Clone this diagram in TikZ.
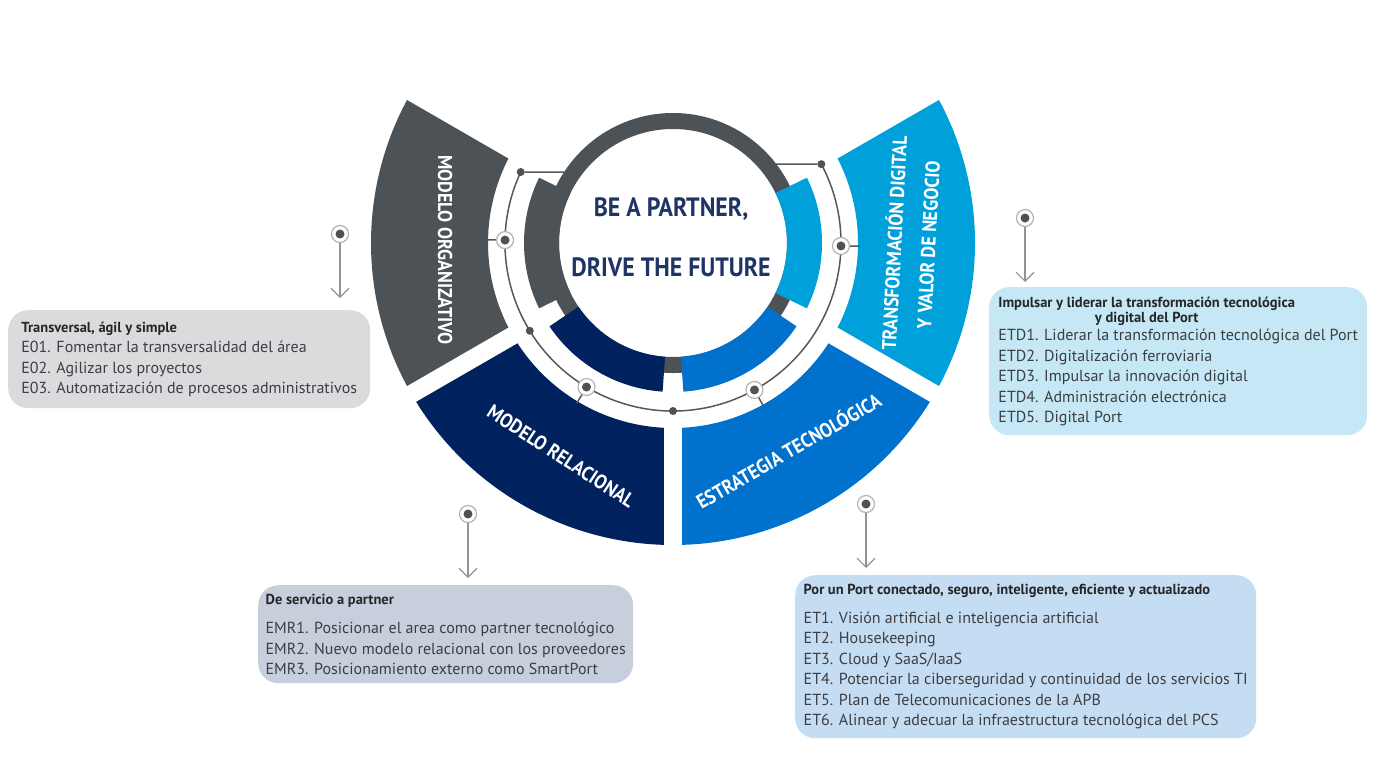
\documentclass[tikz,border=0pt]{standalone}
\usepackage{fontspec}
\setmainfont{PT Sans}
\newfontfamily\narrowfont{PT Sans}[FakeStretch=0.9]
\usetikzlibrary{arrows,arrows.meta,calc}
\definecolor{segGray}{RGB}{77,82,86}
\definecolor{segNavy}{RGB}{0,35,95}
\definecolor{segBlue}{RGB}{0,113,205}
\definecolor{segCyan}{RGB}{0,160,218}
\definecolor{mottoNavy}{RGB}{30,52,100}
\definecolor{boxGray}{RGB}{218,219,221}
\definecolor{boxCyan}{RGB}{197,231,246}
\definecolor{boxSlate}{RGB}{200,207,220}
\definecolor{boxBlue}{RGB}{197,221,242}
\definecolor{lineGray}{RGB}{85,88,92}
\definecolor{itemGray}{RGB}{60,62,66}
\newcommand{\headfont}{\bfseries\color{black!85}\fontsize{14.5}{15.5}\selectfont}
\newcommand{\ringpart}[5]{%
  \fill[#1] ($(C)+(#2:#4)$) arc[start angle=#2,end angle=#3,radius=#4]
    -- ($(C)+(#3:#5)$) arc[start angle=#3,end angle=#2,radius=#5] -- cycle;}
\tikzstyle{every node}=[font=\fontsize{16}{20.5}\selectfont]
\tikzstyle{infobox}=[rounded corners=20pt,
                     anchor=north west,
                     align=left,
                     inner sep=0pt,
                     text=itemGray]
\tikzstyle{seglabel}=[text=white,
                      align=center,
                      font=\narrowfont\bfseries\fontsize{20}{24}\selectfont]
\tikzstyle{motto}=[text=mottoNavy,
                   font=\narrowfont\bfseries\fontsize{26.5}{30}\selectfont]
\tikzstyle{ringline}=[draw=lineGray, line width=1.5pt]
\tikzstyle{pinline}=[draw=gray!85, line width=1.2pt]
\tikzstyle{dot}=[circle, fill=segGray, inner sep=0pt, minimum size=8pt]
\tikzstyle{pin}=[circle,
                 draw=gray!60,
                 line width=1.2pt,
                 fill=white,
                 inner sep=0pt,
                 minimum size=17pt,
                 path picture={\fill[segGray] (path picture bounding box.center) circle (4.5pt);}]

\begin{document}
\begin{tikzpicture}[x=1pt,y=1pt,>={Straight Barb[length=9pt,width=18pt]}]
\useasboundingbox (0,0) rectangle (1375,-756);
\coordinate (C) at (673,-243);
\ringpart{segGray}{150}{210}{185pt}{302pt}
\ringpart{segNavy}{210}{270}{185pt}{302pt}
\ringpart{segBlue}{270}{330}{185pt}{302pt}
\ringpart{segCyan}{330}{390}{185pt}{302pt}
\foreach \a in {30,150,210,270,330}
  \draw[white, line width=18pt] ($(C)+(\a:176pt)$) -- ($(C)+(\a:312pt)$);
\draw[segGray, line width=16pt] (C) circle (122pt);
\ringpart{segGray}{154}{206}{114pt}{149pt}
\ringpart{segNavy}{214}{266}{114pt}{149pt}
\ringpart{segBlue}{274}{326}{114pt}{149pt}
\ringpart{segCyan}{334}{386}{114pt}{149pt}

\draw[ringline] ($(C)+(155:168pt)$) arc[start angle=155, end angle=388, radius=168pt];
\node[dot] (dotTL) at ($(C)+(155:168pt)$) {};
\node[dot] (dotTR) at ($(C)+(28:168pt)$) {};
\node[dot] (dotBL) at ($(C)+(211.5:168pt)$) {};
\node[dot] (dotB) at ($(C)+(270:168pt)$) {};
\coordinate (ringTL) at (564,-172);
\coordinate (ringTR) at (776,-164);
\draw[ringline] (dotTL) -- (ringTL);
\draw[ringline] (dotTR) -- (ringTR);

\foreach \a/\n in {179/L, 359/R, 239/BL, 299/BR}{
  \coordinate (stub\n) at ($(C)+(\a:187pt)$);
  \draw[ringline] ($(C)+(\a:168pt)$) -- (stub\n);
  \node[pin] (pinRing\n) at ($(C)+(\a:168pt)$) {};
}

\node[seglabel, rotate=-90] (orgLabel) at (445,-250) {MODELO ORGANIZATIVO};
\node[seglabel, rotate=87] (digLabel) at (910,-244) {TRANSFORMACIÓN DIGITAL\\[10pt]Y VALOR DE NEGOCIO};
\node[seglabel, rotate=-33] (relLabel) at (561,-456) {MODELO RELACIONAL};
\node[seglabel, rotate=30] (tecLabel) at (788,-450) {ESTRATEGIA TECNOLÓGICA};

\node[motto] (motto1) at (671,-209) {BE A PARTNER,};
\node[motto] (motto2) at (671,-267) {DRIVE THE FUTURE};

\node[infobox, fill=boxGray, minimum width=362pt, minimum height=98pt] (orgBox) at (8,-310)
  {{\headfont Transversal, ágil y simple}\\
   E01. Fomentar la transversalidad del área\\
   E02. Agilizar los proyectos\\
   E03. Automatización de procesos administrativos};
\node[infobox, fill=boxCyan, minimum width=378pt, minimum height=148pt] (digBox) at (989,-287)
  {{\headfont\begin{tabular}{@{}c@{}}Impulsar y liderar la transformación tecnológica\\ y digital del Port\end{tabular}}\\[1pt]
   ETD1. Liderar la transformación tecnológica del Port\\
   ETD2. Digitalización ferroviaria\\
   ETD3. Impulsar la innovación digital\\
   ETD4. Administración electrónica\\
   ETD5. Digital Port};
\node[infobox, fill=boxSlate, minimum width=375pt, minimum height=98pt] (relBox) at (258,-585)
  {{\headfont De servicio a partner}\\[9pt]
   EMR1. Posicionar el area como partner tecnológico\\
   EMR2. Nuevo modelo relacional con los proveedores\\
   EMR3. Posicionamiento externo como SmartPort};
\node[infobox, fill=boxBlue, minimum width=461pt, minimum height=163pt] (tecBox) at (795,-575)
  {{\headfont Por un Port conectado, seguro, inteligente, eficiente y actualizado}\\[8pt]
   ET1. Visión artificial e inteligencia artificial\\
   ET2. Housekeeping\\
   ET3. Cloud y SaaS/IaaS\\
   ET4. Potenciar la ciberseguridad y continuidad de los servicios TI\\
   ET5. Plan de Telecomunicaciones de la APB\\
   ET6. Alinear y adecuar la infraestructura tecnológica del PCS};

\node[pin] (pinOrg) at (340,-234) {};
\node[pin] (pinDig) at (1025,-218) {};
\node[pin] (pinRel) at (468,-514) {};
\node[pin] (pinTec) at (866,-504) {};
\coordinate (tipOrg) at (340,-298);
\coordinate (tipDig) at (1025,-282);
\coordinate (tipRel) at (468,-578);
\coordinate (tipTec) at (866,-568);
\draw[pinline,->] (pinOrg) -- (tipOrg);
\draw[pinline,->] (pinDig) -- (tipDig);
\draw[pinline,->] (pinRel) -- (tipRel);
\draw[pinline,->] (pinTec) -- (tipTec);
\end{tikzpicture}
\end{document}
